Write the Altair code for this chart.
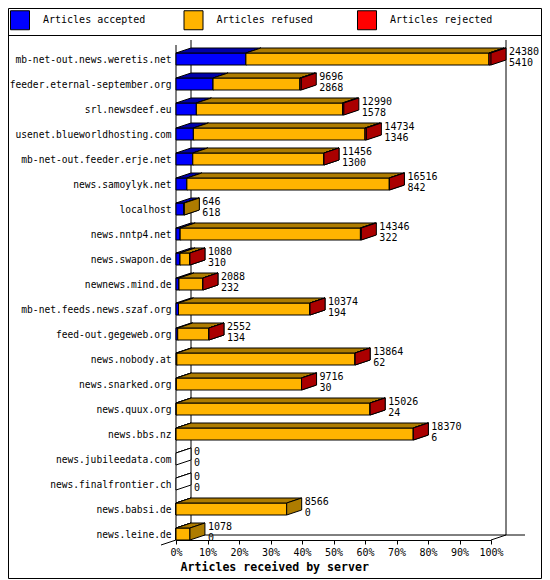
import altair as alt
import pandas as pd

# ---------------- data ----------------
servers = [
    "mb-net-out.news.weretis.net", "feeder.eternal-september.org", "srl.newsdeef.eu",
    "usenet.blueworldhosting.com", "mb-net-out.feeder.erje.net", "news.samoylyk.net",
    "localhost", "news.nntp4.net", "news.swapon.de", "newnews.mind.de",
    "mb-net.feeds.news.szaf.org", "feed-out.gegeweb.org", "news.nobody.at",
    "news.snarked.org", "news.quux.org", "news.bbs.nz", "news.jubileedata.com",
    "news.finalfrontier.ch", "news.babsi.de", "news.leine.de",
]
offered = [24380, 9696, 12990, 14734, 11456, 16516, 646, 14346, 1080, 2088,
           10374, 2552, 13864, 9716, 15026, 18370, 0, 0, 8566, 1078]
accepted = [5410, 2868, 1578, 1346, 1300, 842, 618, 322, 310, 232,
            194, 134, 62, 30, 24, 6, 0, 0, 0, 0]
# estimated (tiny) rejected counts; None = no rejected segment drawn
rejected = [150, 100, 100, 100, 0, 0, None, 70, 0, 0,
            0, 0, 0, 0, 0, 0, None, None, None, None]

segment_names = ["Articles accepted", "Articles refused", "Articles rejected"]
front_colors = ["#0000FF", "#FFB400", "#FF0000"]
shade_colors = ["#0000AA", "#AE7C00", "#AA0000"]
x_ticks = [0, 10, 20, 30, 40, 50, 60, 70, 80, 90, 100]
x_title = "Articles received by server"

# ---------------- geometry (styles) ----------------
SVG_W, SVG_H = 534, 572
PAD_L, PAD_T = 168, 32
W, H = 315, 500
ROW_PX = 25
n = len(servers)
y_dom = [-19 / ROW_PX, n - 19 / ROW_PX]
PX_PER_PCT = W / 100.0
DX = 15 / PX_PER_PCT        # depth in percent units
DY = 5 / ROW_PX             # depth in row units
HALF = 6 / ROW_PX           # half bar height in row units
FONT = "DejaVu Sans Mono"

scale_max = max(offered)


def pct(v):
    return v / scale_max * 100.0


fronts, polys, zero_polys, texts = [], [], [], []
for i, name in enumerate(servers):
    tot = offered[i]
    acc = accepted[i]
    rej = rejected[i]
    refu = tot - acc - (rej or 0)
    vals = [acc, refu, rej]
    yt, yb = i - HALF, i + HALF
    texts.append({"row": i, "end": pct(tot), "top": str(tot), "bot": str(acc), "name": name})
    if tot == 0:
        faces = {
            "top": [(0, yt), (0, yt), (DX, yt - DY), (DX, yt - DY), (0, yt)],
            "side": [(0, yt), (DX, yt - DY), (DX, yb - DY), (0, yb), (0, yt)],
        }
        for f, pts in faces.items():
            for k, (px, py) in enumerate(pts):
                zero_polys.append({"pid": f"{i}-{f}", "k": k, "x": px, "y": py})
        continue
    start = 0.0
    for s, v in enumerate(vals):
        if v is None:
            continue
        x0, x1 = pct(start), pct(start + v)
        start += v
        fronts.append({"seg_i": s, "seg": segment_names[s], "x0": x0, "x1": x1, "y0": yt, "y1": yb})
        faces = {
            "top": [(x0, yt), (x1, yt), (x1 + DX, yt - DY), (x0 + DX, yt - DY), (x0, yt)],
            "side": [(x1, yt), (x1 + DX, yt - DY), (x1 + DX, yb - DY), (x1, yb), (x1, yt)],
        }
        for f, pts in faces.items():
            for k, (px, py) in enumerate(pts):
                polys.append({"seg_i": s, "pid": f"{i}-{s}-{f}", "k": k, "x": px, "y": py})

front_df = pd.DataFrame(fronts)
poly_df = pd.DataFrame(polys)
zero_df = pd.DataFrame(zero_polys)
text_df = pd.DataFrame(texts)

ybot = y_dom[1]
frame_df = pd.DataFrame([
    {"x": 0, "x2": 0, "y": -14 / ROW_PX, "y2": ybot},                 # front left axis
    {"x": DX, "x2": DX, "y": y_dom[0], "y2": ybot - DY},              # back left
    {"x": 100 + DX, "x2": 100 + DX, "y": y_dom[0], "y2": ybot - DY},  # back right
    {"x": DX, "x2": 100 + DX + 19 / PX_PER_PCT, "y": ybot - DY, "y2": ybot - DY},  # back bottom
    {"x": -DX, "x2": DX, "y": ybot + DY, "y2": ybot - DY},            # left depth line
    {"x": 100, "x2": 100 + DX, "y": ybot, "y2": ybot - DY},           # right depth line
])

xs = alt.Scale(domain=[0, 100], nice=False, zero=False)
ys = alt.Scale(domain=y_dom, reverse=True, nice=False, zero=False)
xaxis = alt.Axis(
    values=x_ticks, labelExpr="datum.value + '%'", grid=False,
    labelOverlap=False, labelBound=False, labelFlush=False,
    domainColor="black", tickColor="black", tickSize=4, labelPadding=3,
    labelFont=FONT, labelFontSize=10, labelColor="black", labelAngle=0,
    title=x_title, titleFont=FONT, titleFontSize=11.6, titleFontWeight="bold",
    titleColor="black", titleX=4, titleY=30.5, titleAlign="left",
    titleBaseline="alphabetic", titleAngle=0,
)


def X(f):
    return alt.X(f, type="quantitative", scale=xs, axis=xaxis)


def Y(f):
    return alt.Y(f, type="quantitative", scale=ys, axis=None)


legend = alt.Legend(
    orient="none", legendX=-166, legendY=-30, direction="horizontal", columns=3,
    title=None, symbolType="square", symbolSize=361, symbolStrokeColor="black",
    symbolStrokeWidth=1, symbolOpacity=1, labelFont=FONT, labelFontSize=10,
    labelColor="black", labelOffset=13, columnPadding=35.5, padding=0, gridAlign="all",
)
fill_enc = alt.Fill("seg:N", scale=alt.Scale(domain=segment_names, range=front_colors), legend=legend)

layers = []
for s in range(3):
    fd = front_df[front_df.seg_i == s]
    pdf = poly_df[poly_df.seg_i == s]
    layers.append(
        alt.Chart(fd).mark_rect(stroke="black", strokeWidth=1).encode(
            x=X("x0"), x2="x1", y=Y("y0"), y2="y1", fill=fill_enc)
    )
    layers.append(
        alt.Chart(pdf).mark_line(fill=shade_colors[s], stroke="black", strokeWidth=1).encode(
            x=X("x"), y=Y("y"), order="k:Q", detail="pid:N")
    )

layers.append(
    alt.Chart(zero_df).mark_line(fill="white", stroke="black", strokeWidth=1).encode(
        x=X("x"), y=Y("y"), order="k:Q", detail="pid:N")
)

frame = alt.Chart(frame_df).mark_rule(color="black", strokeWidth=1).encode(
    x=X("x"), x2="x2", y=Y("y"), y2="y2")

left_labels = alt.Chart(text_df).mark_text(
    font=FONT, fontSize=9.6, color="black", align="right", baseline="alphabetic", dy=3.5
).encode(x=alt.value(-4.5), y=Y("row"), text="name:N")

top_labels = alt.Chart(text_df).mark_text(
    font=FONT, fontSize=10, color="black", align="left", baseline="alphabetic", dx=18, dy=-4.5
).encode(x=X("end"), y=Y("row"), text="top:N")

bot_labels = alt.Chart(text_df).mark_text(
    font=FONT, fontSize=10, color="black", align="left", baseline="alphabetic", dx=18, dy=6.8
).encode(x=X("end"), y=Y("row"), text="bot:N")

one = pd.DataFrame({"a": [0]})
separator = alt.Chart(one).mark_rule(color="black", strokeWidth=1).encode(
    x=alt.value(-PAD_L), x2=alt.value(SVG_W - PAD_L), y=alt.value(-4.5))
border = alt.Chart(one).mark_rect(fill="transparent", stroke="black", strokeWidth=1).encode(
    x=alt.value(-PAD_L + 0.5), x2=alt.value(SVG_W - PAD_L - 0.5),
    y=alt.value(-PAD_T + 0.5), y2=alt.value(538.5))

chart = alt.layer(
    border, separator, frame, *layers, left_labels, top_labels, bot_labels
).properties(
    width=W, height=H,
    autosize=alt.AutoSizeParams(type="none"),
    padding={"left": PAD_L, "top": PAD_T, "right": SVG_W - PAD_L - W, "bottom": SVG_H - PAD_T - H},
    background="white",
).configure_view(strokeWidth=0)

chart.save("out.html", embed_options={"renderer": "svg", "actions": False})
